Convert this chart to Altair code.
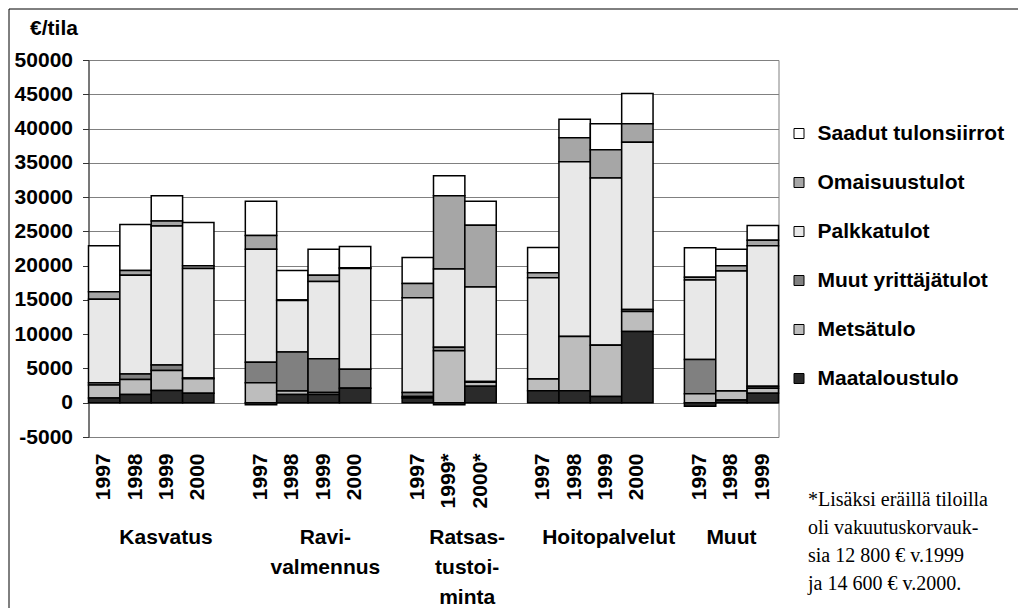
import altair as alt
import pandas as pd

# ---- data ----
groups = ["Kasvatus"] * 4 + ["Ravivalmennus"] * 4 + ["Ratsastustoiminta"] * 3 + ["Hoitopalvelut"] * 4 + ["Muut"] * 3
years = ["1997", "1998", "1999", "2000",
         "1997", "1998", "1999", "2000",
         "1997", "1999*", "2000*",
         "1997", "1998", "1999", "2000",
         "1997", "1998", "1999"]

series_names = ["Saadut tulonsiirrot", "Omaisuustulot", "Palkkatulot",
                "Muut yrittäjätulot", "Metsätulo", "Maataloustulo"]

maataloustulo = [700, 1200, 1800, 1400, -300, 1200, 1200, 2100, 700, -300, 2400, 1750, 1750, 900, 10400, -500, 400, 1400]
metsatulo = [1900, 2200, 2900, 2100, 2900, 500, 300, 0, 200, 7600, 600, 1700, 7900, 7500, 2900, 1300, 1300, 700]
muut_yrittajatulot = [300, 800, 800, 100, 3000, 5700, 4900, 2800, 600, 500, 100, 0, 0, 0, 300, 5000, 0, 300]
palkkatulot = [12200, 14400, 20300, 16000, 16500, 7500, 11300, 14700, 13800, 11400, 13800, 14800, 25500, 24400, 24400, 11600, 17500, 20500]
omaisuustulot = [1100, 700, 700, 400, 2000, 100, 900, 100, 2100, 10700, 9000, 700, 3500, 4100, 2700, 400, 800, 800]
saadut_tulonsiirrot = [6700, 6700, 3700, 6300, 5000, 4300, 3800, 3100, 3800, 2900, 3500, 3700, 2700, 3800, 4400, 4300, 2400, 2150]

group_labels = ["Kasvatus", "Ravi-\nvalmennus", "Ratsas-\ntustoi-\nminta", "Hoitopalvelut", "Muut"]
group_order = ["Kasvatus", "Ravivalmennus", "Ratsastustoiminta", "Hoitopalvelut", "Muut"]

footnote = "*Lisäksi eräillä tiloilla\noli  vakuutuskorvauk-\nsia 12 800 € v.1999\nja 14 600 € v.2000."

# ---- styles ----
colors = ["#ffffff", "#a6a6a6", "#e8e8e8", "#808080", "#bdbdbd", "#2a2a2a"]
label_dx = [30.5, 33, 18, 34, 0]

series_values = {
    "Saadut tulonsiirrot": saadut_tulonsiirrot,
    "Omaisuustulot": omaisuustulot,
    "Palkkatulot": palkkatulot,
    "Muut yrittäjätulot": muut_yrittajatulot,
    "Metsätulo": metsatulo,
    "Maataloustulo": maataloustulo,
}
stack_rank = {"Maataloustulo": 0, "Metsätulo": 1, "Muut yrittäjätulot": 2,
              "Palkkatulot": 3, "Omaisuustulot": 4, "Saadut tulonsiirrot": 5}

keys = [f"{g}|{y}" for g, y in zip(groups, years)]

# category order with empty spacer categories between the groups
order_keys = []
prev = None
gap_n = 0
for g, k in zip(groups, keys):
    if prev is not None and g != prev:
        gap_n += 1
        order_keys.append(f"gap{gap_n}")
    order_keys.append(k)
    prev = g

rows = []
for i, k in enumerate(keys):
    for s in series_names:
        rows.append({"key": k, "series": s, "value": series_values[s][i], "rank": stack_rank[s]})
df = pd.DataFrame(rows)

FONT = "Liberation Sans"
FS = 21

x_scale = alt.Scale(domain=order_keys, paddingInner=0, paddingOuter=0)
x_axis = alt.Axis(
    title=None,
    labelExpr="indexof(datum.value, '|') >= 0 ? split(datum.value, '|')[1] : ''",
    labelAngle=270, labelAlign="right", labelBaseline="middle",
    labelFont=FONT, labelFontSize=FS, labelFontWeight="bold", labelColor="black",
    labelPadding=16, ticks=False, tickSize=0, domain=False, grid=False,
    labelOverlap=False,
)

bars = alt.Chart(df).mark_bar(stroke="black", strokeWidth=1.5).encode(
    x=alt.X("key:N", scale=x_scale, axis=x_axis),
    y=alt.Y(
        "value:Q", stack="zero",
        scale=alt.Scale(domain=[-5000, 50000], nice=False, zero=False),
        axis=alt.Axis(
            values=list(range(-5000, 50001, 5000)),
            labelExpr="toString(datum.value)",
            title="€/tila", titleAngle=0, titleX=-35, titleY=-32,
            titleAlign="center", titleBaseline="middle",
            titleFont=FONT, titleFontSize=FS, titleFontWeight="bold", titleColor="black",
            labelFont=FONT, labelFontSize=FS, labelFontWeight="bold", labelColor="black",
            labelPadding=10, tickSize=6, tickColor="#333333", domainColor="#333333",
            grid=True, gridColor="#808080", gridWidth=1, labelOverlap=False,
        ),
    ),
    color=alt.Color(
        "series:N",
        scale=alt.Scale(domain=series_names, range=colors),
        legend=alt.Legend(
            title=None, orient="none", legendX=700, legendY=63, padding=0,
            symbolType="square", symbolSize=100, symbolStrokeColor="black",
            symbolStrokeWidth=1, labelFont=FONT, labelFontSize=FS,
            labelFontWeight="bold", labelColor="black", labelOffset=8, rowPadding=27,
            labelLimit=0,
        ),
    ),
    order=alt.Order("rank:Q", sort="ascending"),
)

layers = [bars]
for g, lab, dx in zip(group_order, group_labels, label_dx):
    anchor = [k for gg, k in zip(groups, keys) if gg == g][1]
    lab_df = pd.DataFrame({"key": [anchor], "text": [lab]})
    layers.append(
        alt.Chart(lab_df).mark_text(
            dx=dx, align="center", baseline="top", lineBreak="\n", lineHeight=30,
            font=FONT, fontSize=FS, fontWeight="bold", color="black",
        ).encode(
            x=alt.X("key:N", scale=x_scale, axis=x_axis),
            y=alt.value(467),
            text="text:N",
        )
    )

dummy = pd.DataFrame({"a": [0]})
foot = alt.Chart(dummy).mark_text(
    align="left", baseline="top", lineBreak="\n", lineHeight=28,
    font="Liberation Serif", fontSize=20, color="black",
).encode(x=alt.value(719.5), y=alt.value(430), text=alt.value(footnote))

frame_left = alt.Chart(dummy).mark_rule(color="black", strokeWidth=1).encode(
    x=alt.value(-79.5), y=alt.value(-51), y2=alt.value(560))
frame_top = alt.Chart(dummy).mark_rule(color="black", strokeWidth=1).encode(
    x=alt.value(-79.5), x2=alt.value(940), y=alt.value(-51))

layers += [foot, frame_left, frame_top]

chart = alt.layer(*layers).properties(
    width=690, height=377,
    autosize=alt.AutoSizeParams(type="none"),
    padding={"left": 80.5, "top": 52, "right": 239.5, "bottom": 171},
).configure_view(stroke="#808080", strokeWidth=1)

chart.save("out.html", embed_options={"renderer": "svg", "actions": False})
